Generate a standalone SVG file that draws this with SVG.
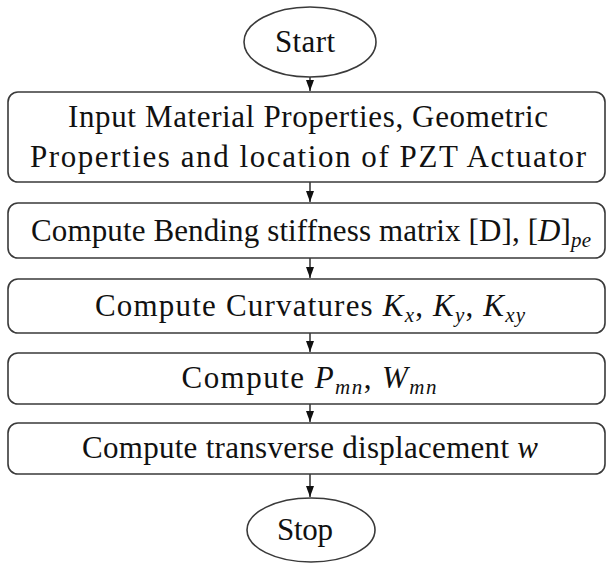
<svg xmlns="http://www.w3.org/2000/svg" width="607" height="563" viewBox="0 0 607 563">
<style>
.b{fill:#fff;stroke:#3a3a3a;stroke-width:1.6}
.t{font-family:'Liberation Serif','Times New Roman','Tinos','Nimbus Roman','Nimbus Roman No9 L','FreeSerif','Noto Serif','DejaVu Serif',Times,serif;font-size:31px;fill:#111;text-anchor:middle}
.i{font-style:italic}
.s{font-style:italic;font-size:21px}
.c{stroke:#222;stroke-width:1.4;fill:none;marker-end:url(#ah)}
</style>
<defs>
<marker id="ah" markerWidth="11" markerHeight="8" refX="11" refY="4" orient="auto" markerUnits="userSpaceOnUse" viewBox="0 0 11 8">
<path d="M0,0 L11,4 L0,8 Z" fill="#111"/>
</marker>
</defs>
<rect width="607" height="563" fill="#fff"/>
<g id="connectors">
<line class="c" x1="310" y1="77" x2="310" y2="91"/>
<line class="c" x1="310" y1="182" x2="310" y2="202"/>
<line class="c" x1="310" y1="258" x2="310" y2="278"/>
<line class="c" x1="310" y1="333" x2="310" y2="352"/>
<line class="c" x1="310" y1="404" x2="310" y2="422"/>
<line class="c" x1="310" y1="474" x2="310" y2="497"/>
</g>
<g id="start">
<ellipse class="b" cx="310" cy="42" rx="66" ry="35"/>
<text class="t" x="305" y="52" textLength="60">Start</text>
</g>
<g id="input">
<rect class="b" x="8" y="92" width="597" height="90" rx="10"/>
<text class="t" x="308" y="127" textLength="480">Input Material Properties, Geometric</text>
<text class="t" x="308" y="167" textLength="556">Properties and location of PZT Actuator</text>
</g>
<g id="stiffness">
<rect class="b" x="8" y="203" width="597" height="55" rx="10"/>
<text class="t" x="311" y="241" textLength="560">Compute Bending stiffness matrix [D], [<tspan class="i">D</tspan>]<tspan class="s" dy="6">pe</tspan></text>
</g>
<g id="curvatures">
<rect class="b" x="8" y="279" width="597" height="54" rx="10"/>
<text class="t" x="310" y="316" textLength="430">Compute Curvatures <tspan class="i">K</tspan><tspan class="s" dy="6">x</tspan><tspan dy="-6">, </tspan><tspan class="i">K</tspan><tspan class="s" dy="6">y</tspan><tspan dy="-6">, </tspan><tspan class="i">K</tspan><tspan class="s" dy="6">xy</tspan></text>
</g>
<g id="pw">
<rect class="b" x="8" y="353" width="597" height="51" rx="10"/>
<text class="t" x="309" y="388" textLength="255">Compute <tspan class="i">P</tspan><tspan class="s" dy="6">mn</tspan><tspan dy="-6">, </tspan><tspan class="i">W</tspan><tspan class="s" dy="6">mn</tspan></text>
</g>
<g id="displacement">
<rect class="b" x="8" y="423" width="597" height="51" rx="10"/>
<text class="t" x="310" y="458" textLength="456">Compute transverse displacement <tspan class="i">w</tspan></text>
</g>
<g id="stop">
<ellipse class="b" cx="311" cy="530" rx="64" ry="32"/>
<text class="t" x="305" y="540" textLength="56">Stop</text>
</g>
</svg>
